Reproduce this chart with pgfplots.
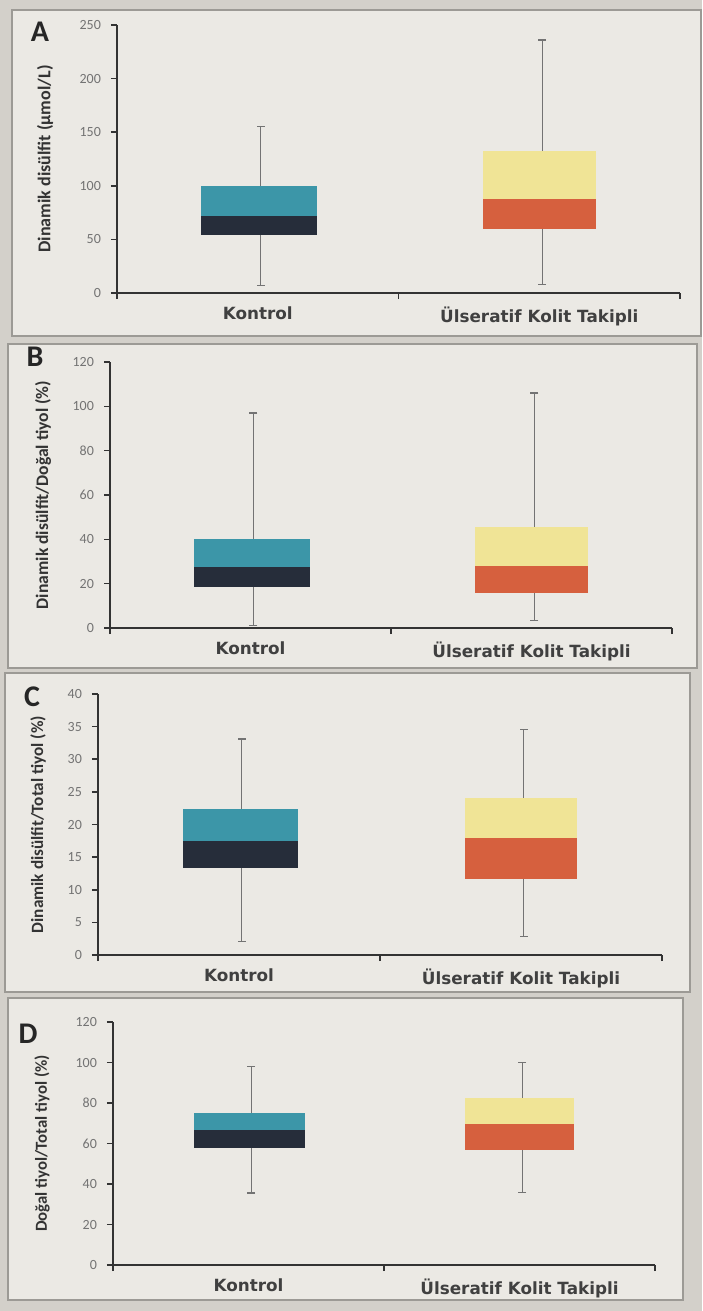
\documentclass[border=0pt]{standalone}
\usepackage{fontspec}
\setmainfont{Carlito}
\newfontfamily\dvs{DejaVu Sans}
\usepackage{pgfplots}
\pgfplotsset{compat=1.18}
\definecolor{teal1}{HTML}{3C96A8}
\definecolor{navy1}{HTML}{262D3A}
\definecolor{yel1}{HTML}{F0E496}
\definecolor{ora1}{HTML}{D6603E}
\definecolor{panelbg}{HTML}{EBE9E4}
\definecolor{outerbg}{HTML}{D3D0CA}
\definecolor{framec}{HTML}{9C9A95}
\pgfplotsset{
  panel/.style={
    scale only axis,
    axis x line=bottom, axis y line=left,
    axis line style={-, line width=0.9pt, color=black!80},
    xmin=0, xmax=2, ymin=0,
    xtick={0,1,2}, xticklabels={},
    extra x ticks={0.5,1.5},
    extra x tick labels={Kontrol, Ülseratif Kolit Takipli},
    extra x tick style={major tick length=0pt},
    xticklabel style={font=\dvs\bfseries\fontsize{8.4}{9}\selectfont, text=black!75, yshift=-3.5pt},
    tick align=outside, major tick length=3pt,
    tick style={line width=0.8pt, color=black!80},
    yticklabel style={font=\fontsize{7}{8}\selectfont, text=black!55, xshift=-1.5pt},
    /pgf/number format/assume math mode=true,
    clip=false,
  },
  ylab/.style 2 args={every axis y label/.style={at={(axis description cs:0,0.5)}, xshift=#1, rotate=90, anchor=center, font=\bfseries\fontsize{#2}{10}\selectfont, text=black!80}},
  whisk/.style={color=black!55, line width=0.5pt, mark=-, mark size=2pt, mark options={line width=0.6pt, color=black!55}},
}
\begin{document}
\begin{tikzpicture}
\useasboundingbox (0,0) rectangle (351pt,-655.5pt);
\fill[outerbg] (0,0) rectangle (351pt,-655.5pt);
\begin{scope}[x=0.5pt,y=-0.5pt]
\filldraw[fill=panelbg, draw=framec, line width=1pt] (12,10) rectangle (701,336);
\filldraw[fill=panelbg, draw=framec, line width=1pt] (8,344) rectangle (697,668);
\filldraw[fill=panelbg, draw=framec, line width=1pt] (5,673) rectangle (690,992);
\filldraw[fill=panelbg, draw=framec, line width=1pt] (8,998) rectangle (683,1300);
\node[font=\bfseries\fontsize{15}{16}\selectfont, text=black!85] at (40,32) {A};
\node[font=\bfseries\fontsize{15}{16}\selectfont, text=black!85] at (35,357) {B};
\node[font=\bfseries\fontsize{15}{16}\selectfont, text=black!85] at (32,697) {C};
\node[font=\bfseries\fontsize{15}{16}\selectfont, text=black!85] at (28,1034) {D};
\end{scope}

% Panel A
\begin{axis}[panel, at={(58.5pt,-146.5pt)}, anchor=south west, width=281.5pt, height=134pt,
  ymax=250, ytick={0,50,...,250}, ylab={-36pt}{9}, ylabel={Dinamik disülfit (µmol/L)}]
\addplot[whisk] coordinates {(0.51,7) (0.51,155)};
\addplot[whisk] coordinates {(1.51,8) (1.51,236)};
\addplot[fill=navy1, draw=none] coordinates {(0.3,54) (0.71,54) (0.71,72) (0.3,72)} -- cycle;
\addplot[fill=teal1, draw=none] coordinates {(0.3,72) (0.71,72) (0.71,100) (0.3,100)} -- cycle;
\addplot[fill=ora1, draw=none] coordinates {(1.3,60) (1.7,60) (1.7,88) (1.3,88)} -- cycle;
\addplot[fill=yel1, draw=none] coordinates {(1.3,88) (1.7,88) (1.7,132) (1.3,132)} -- cycle;
\end{axis}

% Panel B
\begin{axis}[panel, at={(55pt,-314pt)}, anchor=south west, width=281pt, height=133pt,
  ymax=120, ytick={0,20,...,120}, ylab={-33.5pt}{8.8}, ylabel={Dinamik disülfit/Doğal tiyol (\%)}]
\addplot[whisk] coordinates {(0.51,1) (0.51,97)};
\addplot[whisk] coordinates {(1.51,3.5) (1.51,106)};
\addplot[fill=navy1, draw=none] coordinates {(0.3,18.5) (0.71,18.5) (0.71,27.5) (0.3,27.5)} -- cycle;
\addplot[fill=teal1, draw=none] coordinates {(0.3,27.5) (0.71,27.5) (0.71,40) (0.3,40)} -- cycle;
\addplot[fill=ora1, draw=none] coordinates {(1.3,16) (1.7,16) (1.7,28) (1.3,28)} -- cycle;
\addplot[fill=yel1, draw=none] coordinates {(1.3,28) (1.7,28) (1.7,45.5) (1.3,45.5)} -- cycle;
\end{axis}

% Panel C
\begin{axis}[panel, at={(49pt,-477.5pt)}, anchor=south west, width=282pt, height=130.5pt,
  ymax=40, ytick={0,5,...,40}, ylab={-30pt}{8.6}, ylabel={Dinamik disülfit/Total tiyol (\%)}]
\addplot[whisk] coordinates {(0.51,2.1) (0.51,33.1)};
\addplot[whisk] coordinates {(1.51,2.8) (1.51,34.5)};
\addplot[fill=navy1, draw=none] coordinates {(0.3,13.3) (0.71,13.3) (0.71,17.5) (0.3,17.5)} -- cycle;
\addplot[fill=teal1, draw=none] coordinates {(0.3,17.5) (0.71,17.5) (0.71,22.4) (0.3,22.4)} -- cycle;
\addplot[fill=ora1, draw=none] coordinates {(1.3,11.6) (1.7,11.6) (1.7,17.9) (1.3,17.9)} -- cycle;
\addplot[fill=yel1, draw=none] coordinates {(1.3,17.9) (1.7,17.9) (1.7,24) (1.3,24)} -- cycle;
\end{axis}

% Panel D
\begin{axis}[panel, at={(56.5pt,-632.5pt)}, anchor=south west, width=271pt, height=121.5pt,
  ymax=120, ytick={0,20,...,120}, ylab={-35.5pt}{8.4}, ylabel={Doğal tiyol/Total tiyol (\%)}]
\addplot[whisk] coordinates {(0.51,35.6) (0.51,98)};
\addplot[whisk] coordinates {(1.51,36) (1.51,100)};
\addplot[fill=navy1, draw=none] coordinates {(0.3,57.8) (0.71,57.8) (0.71,66.7) (0.3,66.7)} -- cycle;
\addplot[fill=teal1, draw=none] coordinates {(0.3,66.7) (0.71,66.7) (0.71,75) (0.3,75)} -- cycle;
\addplot[fill=ora1, draw=none] coordinates {(1.3,56.8) (1.7,56.8) (1.7,69.6) (1.3,69.6)} -- cycle;
\addplot[fill=yel1, draw=none] coordinates {(1.3,69.6) (1.7,69.6) (1.7,82.5) (1.3,82.5)} -- cycle;
\end{axis}
\end{tikzpicture}
\end{document}
